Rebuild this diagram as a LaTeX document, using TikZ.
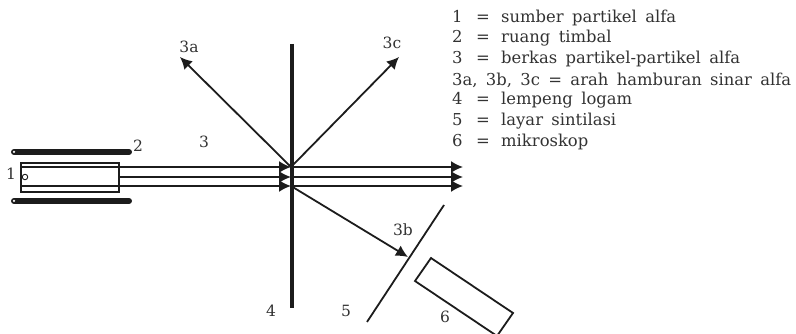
\documentclass[tikz,border=0pt]{standalone}
\usepackage{fontspec}
\setmainfont{DejaVu Serif}
\newfontfamily\legfont[WordSpace=1.6]{DejaVu Serif}
\usetikzlibrary{arrows.meta,positioning}
\definecolor{tinta}{RGB}{28,28,28}
\definecolor{angka}{RGB}{50,50,50}
\newcommand{\legline}[2]{\makebox[24pt][l]{#1}\makebox[25pt][l]{=}#2}

\begin{document}
\begin{tikzpicture}[
    x=1pt, y=-1pt,
    label/.style={text=angka, inner sep=0pt, font=\fontsize{15.5}{18}\selectfont},
    legend/.style={text=angka, inner sep=0pt, anchor=west, font=\legfont\fontsize{16.4}{19}\selectfont},
    bar/.style={draw=tinta, line width=6pt, line cap=round},
    beam/.style={draw=tinta, line width=1.8pt},
    arr/.style={-{Latex[length=12pt, width=12pt]}, draw=tinta, line width=1.8pt},
    thin box/.style={draw=tinta, line width=1.8pt}
  ]
    \useasboundingbox (0,0) rectangle (796,334);
    % sumber dan ruang timbal
    \node[thin box, anchor=north west, minimum width=98pt, minimum height=29pt, inner sep=0pt] (source) at (20,162) {};
    \node[draw=tinta, circle, line width=0.9pt, minimum size=5.5pt, inner sep=0pt] (dot) at (25,177) {};
    \coordinate (topa) at (14,152);
    \coordinate (topb) at (129,152);
    \coordinate (lowa) at (14,201);
    \coordinate (lowb) at (129,201);
    \draw[bar] (topa) -- (topb);
    \draw[bar] (lowa) -- (lowb);
    \node[circle, fill=white, minimum size=2.5pt, inner sep=0pt] (holea) at (topa) {};
    \node[circle, fill=white, minimum size=2.5pt, inner sep=0pt] (holeb) at (lowa) {};
    % lempeng, layar, mikroskop
    \coordinate (plateup) at (292,44);
    \coordinate (platedn) at (292,308);
    \draw[draw=tinta, line width=4pt] (plateup) -- (platedn);
    \coordinate (screenup) at (444,205);
    \coordinate (screendn) at (367,322);
    \draw[beam] (screenup) -- (screendn);
    \coordinate (mica) at (431,258);
    \coordinate (micb) at (513,313);
    \coordinate (micc) at (497,336);
    \coordinate (micd) at (415,281);
    \draw[beam] (mica) -- (micb) -- (micc) -- (micd) -- cycle;
    % berkas
    \coordinate (b1s) at (20,167);
    \coordinate (b2s) at (118,177);
    \coordinate (b3s) at (20,186);
    \coordinate (b1h) at (291,167);
    \coordinate (b2h) at (291,177);
    \coordinate (b3h) at (291,186);
    \coordinate (b1e) at (463,167);
    \coordinate (b2e) at (463,177);
    \coordinate (b3e) at (463,186);
    \draw[arr] (b1s) -- (b1h);
    \draw[arr] (b2s) -- (b2h);
    \draw[arr] (b3s) -- (b3h);
    \draw[arr] (b1h) -- (b1e);
    \draw[arr] (b2h) -- (b2e);
    \draw[arr] (b3h) -- (b3e);
    % hamburan
    \coordinate (tip3a) at (180,57);
    \coordinate (tip3b) at (408,257);
    \coordinate (tip3c) at (399,57);
    \draw[arr] (b1h) -- (tip3a);
    \draw[arr] (b1h) -- (tip3c);
    \draw[arr] (b3h) -- (tip3b);
    % angka
    \node[label] (n1) at (11,174) {1};
    \node[label] (n2) at (138,146) {2};
    \node[label] (n3) at (204,142) {3};
    \node[label] (n3a) at (189,47) {3a};
    \node[label] (n3c) at (392,43) {3c};
    \node[label] (n3b) at (403,230) {3b};
    \node[label] (n4) at (271,311) {4};
    \node[label] (n5) at (346,311) {5};
    \node[label] (n6) at (445,317) {6};
    % keterangan
    \node[legend] (leg1) at (452,18) {\legline{1}{sumber partikel alfa}};
    \node[legend] (leg2) at (452,38) {\legline{2}{ruang timbal}};
    \node[legend] (leg3) at (452,59) {\legline{3}{berkas partikel-partikel alfa}};
    \node[legend] (leg4) at (452,80) {3a, 3b, 3c = arah hamburan sinar alfa};
    \node[legend] (leg5) at (452,100) {\legline{4}{lempeng logam}};
    \node[legend] (leg6) at (452,121) {\legline{5}{layar sintilasi}};
    \node[legend] (leg7) at (452,142) {\legline{6}{mikroskop}};
  \end{tikzpicture}
\end{document}
